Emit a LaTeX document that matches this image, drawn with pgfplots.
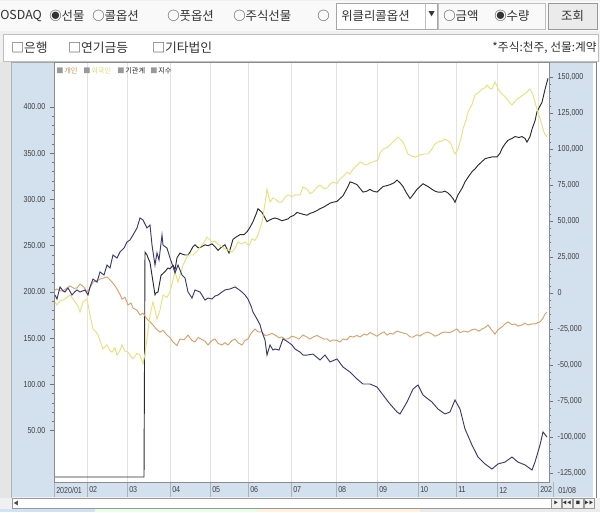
\documentclass[border=0pt]{standalone}
\usepackage{fontspec}
\usepackage{pgfplots}
\pgfplotsset{compat=1.18}
\usepackage{pgfplotstable}
\setmainfont{Liberation Sans}
\newfontfamily\kr{Noto Sans CJK KR}
\newfontfamily\nar[FakeStretch=0.82]{Liberation Sans}
\definecolor{indivc}{HTML}{D9A06A}
\definecolor{forc}{HTML}{ECE07A}
\definecolor{instc}{HTML}{3A3A6E}
\definecolor{idxc}{HTML}{2B2B2B}
\definecolor{bandc}{HTML}{D3E0EE}
\definecolor{gridc}{HTML}{E2E2E2}
\definecolor{uibg}{HTML}{F0F0F0}
\definecolor{labc}{HTML}{404040}
\definecolor{tabblue}{HTML}{CFE3F5}

% 개인 (individuals), cumulative net, contracts
\pgfplotstableread{
x v
55 2100
57 2800
60 1500
63 1400
66 3000
70 4900
74 3200
77 3500
80 6200
84 4000
87 700
90 3500
93 7600
97 8500
100 9700
104 10500
107 11100
110 9000
112 7600
115 5000
117 2800
120 -1000
122 -4200
125 -3000
128 -8300
131 -7000
133 -10400
137 -12000
140 -15300
143 -14000
147 -18100
150 -20000
153 -22200
157 -25500
160 -27100
163 -26000
167 -29200
170 -31000
173 -34000
177 -36500
180 -31900
184 -32500
188 -29200
192 -33000
195 -34000
198 -31000
201 -31900
205 -33500
208 -36100
212 -33000
215 -31900
218 -35000
222 -36100
225 -34500
228 -36100
232 -33000
235 -31900
238 -34500
242 -36100
245 -33000
248 -31900
251 -28000
255 -25000
258 -27000
262 -27100
265 -29500
268 -29200
272 -28000
275 -29200
279 -31000
282 -30600
285 -32000
288 -31900
292 -30000
295 -30600
299 -32000
303 -29200
307 -30600
310 -32000
313 -30600
317 -29500
320 -30600
324 -32000
327 -31900
330 -33500
333 -32600
337 -33000
340 -34000
343 -31900
347 -32500
350 -30000
353 -30600
357 -29500
360 -30600
364 -28500
367 -29200
370 -27500
373 -28500
377 -30000
380 -28500
384 -27000
387 -29200
390 -28000
393 -28500
397 -26500
400 -27100
404 -28000
407 -28500
410 -30500
413 -30600
417 -29000
420 -29900
424 -28000
428 -27100
432 -28500
435 -30000
438 -29200
442 -27500
445 -27100
450 -27500
454 -26000
457 -25000
460 -27500
464 -26500
468 -27100
472 -25500
475 -25000
479 -26500
482 -25000
485 -24000
488 -22200
492 -26000
495 -28500
498 -25500
502 -23600
505 -21500
508 -20100
512 -22000
515 -21500
518 -23000
522 -22200
525 -21000
528 -22200
532 -21500
535 -21500
538 -20500
540 -20100
543 -17500
545 -14600
547 -13200
}\indiv

% 외국인 (foreigners)
\pgfplotstableread{
x v
55 -6200
57 -8300
60 -5500
63 -4900
67 -3000
70 -1400
73 -4000
75 -6200
78 -9000
80 -13200
83 -6200
87 -4200
90 -15300
93 -25000
96 -27000
98 -29200
101 -35000
103 -38900
107 -36100
110 -40000
112 -41000
115 -38000
117 -43100
120 -40000
122 -36100
125 -40500
128 -41000
131 -44000
133 -45800
137 -42000
140 -43100
143 -49300
145 -42000
147 -31900
150 -15300
153 -6200
155 -12000
157 -18100
160 -11800
163 -1400
167 -3000
170 700
173 9000
175 14600
178 7600
183 19400
188 26400
193 26400
197 29000
200 31900
204 35000
207 38900
212 35400
215 36000
218 34000
222 32000
225 30600
229 29500
232 28500
235 31000
238 35400
242 34000
245 35400
249 33000
252 37500
255 36500
258 40300
262 49300
265 62000
267 72200
270 63200
273 66000
275 65300
279 63000
282 63200
285 66500
288 68100
292 67000
295 68100
300 68100
303 73600
307 72200
310 69000
313 70100
317 73500
320 75000
324 72500
327 72900
330 75500
333 77100
337 76000
340 79200
344 81500
347 84000
350 82500
353 86100
357 88500
360 91000
364 89500
367 88900
370 90500
373 91000
378 92400
380 97000
383 100000
387 101000
390 102800
394 105500
398 108300
403 104900
406 100000
408 96500
412 95000
415 94400
420 95800
424 96500
428 96500
432 100000
435 103500
438 104900
442 105500
445 106900
448 105500
450 104900
453 100000
455 96500
458 100000
461 107000
463 113900
466 120000
468 125700
472 131000
475 137500
479 139500
482 141700
485 142500
487 144400
490 142000
492 141700
495 146500
498 142000
500 139600
504 137000
507 134700
510 132000
512 130600
515 133000
517 134700
520 136000
523 137500
526 139000
530 141700
533 137500
536 130000
538 125700
541 119000
543 113900
545 110000
547 108300
}\foreign

% 기관계 (institutions)
\pgfplotstableread{
x v
55 -1400
57 -4200
60 4200
63 1500
65 700
68 3500
72 -1400
75 1000
77 2100
80 700
85 2100
88 -1400
90 4200
93 9700
97 7600
100 14600
104 12500
107 19400
110 17400
113 26400
117 24300
120 28500
124 31200
127 35400
130 36800
133 40300
137 45100
140 52100
143 50700
147 45100
150 47200
152 33300
155 19400
157 27800
159 22900
162 40300
163 33300
167 31200
170 24300
173 18100
175 13900
178 19400
182 12500
185 10400
188 700
192 -3500
195 2100
200 700
205 -4900
208 -3500
212 -4200
215 -2100
218 -1400
222 700
225 2100
230 2800
235 4200
238 2800
242 700
245 -1400
248 -4200
251 -9000
253 -13200
257 -18100
260 -22000
262 -27100
265 -32600
267 -43100
270 -36100
273 -39600
275 -38900
279 -39600
283 -31900
288 -34000
292 -36100
295 -38900
300 -41000
303 -43100
307 -43100
313 -42400
320 -46500
325 -43100
330 -47900
337 -45800
343 -51400
350 -54900
357 -59700
363 -63200
370 -63200
377 -65300
383 -70800
390 -77100
397 -82600
400 -84000
407 -75700
413 -66700
418 -63900
423 -70800
428 -73600
432 -75700
438 -80600
445 -84000
450 -82600
455 -74300
460 -80600
465 -94400
472 -105600
478 -113900
485 -118700
492 -122200
498 -118700
505 -117400
512 -113900
518 -117400
525 -119400
532 -122900
535 -117400
540 -105600
543 -96500
547 -100000
}\inst

% 지수 (index), left axis
\pgfplotstableread{
x v
55 0
144 0
145 243
147 240
148 237
150 232
152 218
153 211
155 197
156 199
158 200
161 218
165 222
168 226
170 225
173 229
175 224
177 237
180 242
182 241
185 240
188 240
190 243
193 249
195 251
198 248
200 248
205 251
208 250
212 252
215 249
218 245
222 249
225 251
229 242
233 257
237 260
240 262
244 262
247 265
250 270
253 276
256 284
258 290
262 286
265 280
267 276
270 278
272 279
275 280
278 279
282 277
285 278
288 279
290 281
294 283
297 286
300 285
303 284
307 283
310 285
313 286
317 288
320 290
324 292
327 294
330 296
333 297
337 298
340 301
343 304
345 308
348 314
350 319
353 318
357 316
360 312
363 308
367 309
370 311
373 309
377 308
380 311
383 314
387 315
390 316
394 318
397 321
400 318
403 314
406 308
410 301
413 305
417 311
420 314
423 317
428 314
432 311
435 309
438 308
442 308
445 309
448 307
450 305
453 301
455 297
458 305
462 312
465 319
468 324
472 330
475 333
478 337
482 341
485 344
488 345
492 346
497 346
500 350
502 355
505 360
508 364
512 366
515 368
519 367
522 368
525 366
527 362
530 368
532 376
535 385
537 395
540 401
542 405
545 419
548 431
}\idx

\pgfplotsset{
  common/.style={
    at={(40.5pt,-361.5pt)}, anchor=south west,
    scale only axis, width=371.25pt, height=315pt,
    xmin=54, xmax=549,
    axis line style={draw=black!45, line width=0.5pt},
    tick style={draw=black!55, line width=0.4pt},
    tick align=outside,
    major tick length=3pt, minor tick length=1.6pt,
    yticklabel style={font=\nar\fontsize{6.5}{7}\selectfont, text=labc},
  }
}

\begin{document}
\begin{tikzpicture}
\useasboundingbox (0,0) rectangle (450pt,-384pt);
\begin{scope}[x=0.75pt,y=-0.75pt]
  \fill[uibg] (0,0) rectangle (600,512);
  % row 1
  \fill[white!60!uibg] (0,1) rectangle (600,31);
  \begin{scope}[every node/.style={font=\kr\fontsize{9.3}{10}\selectfont, text=black!80, anchor=west, inner sep=0pt}]
    \node at (0,16) {OSDAQ};
    \node at (49,16) {◉선물};
    \node at (92,16) {○콜옵션};
    \node at (167,16) {○풋옵션};
    \node at (233,16) {○주식선물};
    \node at (317,16) {○};
    \draw[fill=white, draw=black!35] (336,3) rectangle (437,29);
    \draw[draw=black!25] (425,3) -- (425,29);
    \node at (341,16) {위클리콜옵션};
    \node[font=\kr\fontsize{5}{6}\selectfont] at (428,14) {▼};
    \draw[fill=white!60!uibg, draw=black!25] (438,3) rectangle (545,29);
    \node at (443,16) {○금액};
    \node at (494,16) {◉수량};
    \draw[fill=black!8, draw=black!40] (548,3) rectangle (597,29);
    \node[anchor=center] at (572.5,16) {조회};
  \end{scope}
  % row 2
  \draw[fill=white, draw=black!25] (3,34) rectangle (598,61);
  \begin{scope}[every node/.style={font=\kr\fontsize{9.6}{10}\selectfont, text=black!80, anchor=west, inner sep=0pt}]
    \node at (11,48) {□은행};
    \node at (68,48) {□연기금등};
    \node at (152,48) {□기타법인};
    \node[anchor=east, font=\kr\fontsize{8.8}{10}\selectfont] at (597,48) {*주식:천주, 선물:계약};
  \end{scope}
  % chart frame
  \fill[black!10] (0,62) rectangle (11,498);
  \draw[black!30] (11,62) -- (11,498);
  \fill[bandc] (12,63) rectangle (54,482);
  \fill[bandc] (549,63) rectangle (593,482);
  \fill[bandc] (12,482) rectangle (593,497);
  \fill[white] (593,62) rectangle (600,498);
  \draw[black!50] (596,62) -- (596,498);
  \fill[white] (54,62) rectangle (549,482);
  \draw[black!35] (11,62.5) -- (596,62.5);
  % separators in the date band
  \foreach \g in {54,87,127,170,210,248,291,336,377,418,456,497,538,553}
    \draw[black!20!bandc, line width=0.5pt] (\g,482) -- (\g,497);
  % scrollbar
  \draw[fill=white, draw=black!40] (12,498.5) rectangle (552,508);
  \node[font=\kr\fontsize{4}{5}\selectfont, text=black!70] at (16,503) {◀};
  \foreach \bx/\sym in {556/▶,567/◀◀,578/■,589/▶▶}
    \draw[fill=black!5, draw=black!40] (\bx-5,498.5) rectangle (\bx+5,508) node[midway, font=\kr\fontsize{3.2}{4}\selectfont, text=black!80] {\sym};
  % bottom strip
  \fill[tabblue] (0,508.5) rectangle (95,512);
  \fill[green!10!white] (95,508.5) rectangle (258,512);
  \fill[orange!12!white] (258,508.5) rectangle (420,512);
  \fill[black!8] (420,508.5) rectangle (600,512);
\end{scope}

% left axis: index
\begin{axis}[common,
  ymin=-5.4, ymax=448.6,
  ytick={50,100,150,200,250,300,350,400},
  yticklabels={50.00,100.00,150.00,200.00,250.00,300.00,350.00,400.00},
  minor y tick num=4,
  ytick pos=left,
  xtick={87,127,170,210,248,291,336,377,418,456,497,538},
  xticklabels={},
  xtick style={draw=none},
  xmajorgrids=true,
  major grid style={draw=gridc, line width=0.6pt},
  clip=true,
]
\addplot[idxc, line width=0.7pt] table[x=x, y=v] {\idx};
\end{axis}

% right axis: cumulative net positions
\begin{axis}[common,
  ymin=-131250, ymax=160400,
  hide x axis,
  axis y line*=right,
  scaled y ticks=false,
  ytick={-125000,-100000,-75000,-50000,-25000,0,25000,50000,75000,100000,125000,150000},
  yticklabels={{-125,000},{-100,000},{-75,000},{-50,000},{-25,000},0,{25,000},{50,000},{75,000},{100,000},{125,000},{150,000}},
  minor y tick num=4,
  clip=true,
]
\addplot[indivc, line width=0.7pt] table[x=x, y=v] {\indiv};
\addplot[forc, line width=0.7pt] table[x=x, y=v] {\foreign};
\addplot[instc, line width=0.7pt] table[x=x, y=v] {\inst};
\end{axis}

\begin{scope}[x=0.75pt,y=-0.75pt]
  % legend
  \begin{scope}[every node/.style={font=\kr\fontsize{5.4}{6}\selectfont, anchor=west, inner sep=0pt}]
    \node[text=black!40] at (56,71) {■};
    \node[text=indivc!90!black] at (64,71) {개인};
    \node[text=black!40] at (83,71) {■};
    \node[text=forc!95!black] at (91,71) {외국인};
    \node[text=black!40] at (117,71) {■};
    \node[text=black!85] at (125,71) {기관계};
    \node[text=black!40] at (150,71) {■};
    \node[text=black!85] at (158,71) {지수};
  \end{scope}
  % date labels
  \begin{scope}[every node/.style={font=\nar\fontsize{6.5}{7}\selectfont, text=labc, anchor=west, inner sep=0pt}]
    \node at (56,490) {2020/01};
    \node at (89,490) {02};
    \node at (129,490) {03};
    \node at (172,490) {04};
    \node at (212,490) {05};
    \node at (250,490) {06};
    \node at (293,490) {07};
    \node at (338,490) {08};
    \node at (379,490) {09};
    \node at (420,490) {10};
    \node at (458,490) {11};
    \node at (499,490) {12};
    \node at (540,490) {202};
    \node at (558,490) {01/08};
  \end{scope}
\end{scope}
\end{tikzpicture}
\end{document}
